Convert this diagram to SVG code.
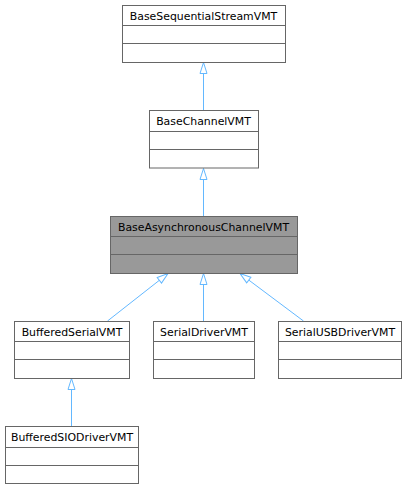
<svg xmlns="http://www.w3.org/2000/svg" width="407" height="489" viewBox="0 0 407 489">
<style>
.box{fill:#ffffff;stroke:#666666;stroke-width:1}
.hl{fill:#999999;stroke:#666666;stroke-width:1}
.div{stroke:#666666;stroke-width:1}
.lbl{font-family:"DejaVu Sans",sans-serif;font-size:10.9px;fill:#000000;text-anchor:middle}
.edge{stroke:#63b8ff;stroke-width:1;fill:none}
</style>
<defs>
<marker id="tri" markerUnits="userSpaceOnUse" markerWidth="13" markerHeight="10" refX="12" refY="4.5" orient="auto" viewBox="0 0 13 10">
<path d="M1,1 L12,4.5 L1,8 z" fill="#ffffff" stroke="#63b8ff" stroke-width="1"/>
</marker>
</defs>
<rect width="407" height="489" fill="#ffffff"/>
<g id="connectors">
<line class="edge" x1="203.5" y1="110.5" x2="203.5" y2="62.5" marker-end="url(#tri)"/>
<line class="edge" x1="203.5" y1="216.5" x2="203.5" y2="168.5" marker-end="url(#tri)"/>
<line class="edge" x1="107.5" y1="321" x2="168" y2="273.5" marker-end="url(#tri)"/>
<line class="edge" x1="203.5" y1="321" x2="203.5" y2="273.5" marker-end="url(#tri)"/>
<line class="edge" x1="303.5" y1="321" x2="240" y2="273.5" marker-end="url(#tri)"/>
<line class="edge" x1="71.5" y1="426.5" x2="71.5" y2="378.5" marker-end="url(#tri)"/>
</g>
<g id="BaseSequentialStreamVMT">
<rect class="box" x="122.5" y="5.5" width="163" height="57"/>
<line class="div" x1="122.5" y1="25.5" x2="285.5" y2="25.5"/>
<line class="div" x1="122.5" y1="43.5" x2="285.5" y2="43.5"/>
<text class="lbl" x="203.5" y="19.5">BaseSequentialStreamVMT</text>
</g>
<g id="BaseChannelVMT">
<rect class="box" x="149.5" y="110.5" width="109" height="57.5"/>
<line class="div" x1="149.5" y1="131.5" x2="258.5" y2="131.5"/>
<line class="div" x1="149.5" y1="149.5" x2="258.5" y2="149.5"/>
<text class="lbl" x="203.5" y="125">BaseChannelVMT</text>
</g>
<g id="BaseAsynchronousChannelVMT">
<rect class="hl" x="110.5" y="216.5" width="187" height="57"/>
<line class="div" x1="110.5" y1="236.5" x2="297.5" y2="236.5"/>
<line class="div" x1="110.5" y1="254.5" x2="297.5" y2="254.5"/>
<text class="lbl" x="203.5" y="230.5">BaseAsynchronousChannelVMT</text>
</g>
<g id="BufferedSerialVMT">
<rect class="box" x="14.5" y="321.5" width="115" height="57"/>
<line class="div" x1="14.5" y1="341.5" x2="129.5" y2="341.5"/>
<line class="div" x1="14.5" y1="359.5" x2="129.5" y2="359.5"/>
<text class="lbl" x="72" y="335.5">BufferedSerialVMT</text>
</g>
<g id="SerialDriverVMT">
<rect class="box" x="153.5" y="321.5" width="101" height="57"/>
<line class="div" x1="153.5" y1="341.5" x2="254.5" y2="341.5"/>
<line class="div" x1="153.5" y1="359.5" x2="254.5" y2="359.5"/>
<text class="lbl" x="204" y="335.5">SerialDriverVMT</text>
</g>
<g id="SerialUSBDriverVMT">
<rect class="box" x="278.5" y="321.5" width="123" height="57"/>
<line class="div" x1="278.5" y1="341.5" x2="401.5" y2="341.5"/>
<line class="div" x1="278.5" y1="359.5" x2="401.5" y2="359.5"/>
<text class="lbl" x="340" y="335.5">SerialUSBDriverVMT</text>
</g>
<g id="BufferedSIODriverVMT">
<rect class="box" x="5.5" y="426.5" width="133" height="57"/>
<line class="div" x1="5.5" y1="447.5" x2="138.5" y2="447.5"/>
<line class="div" x1="5.5" y1="465.5" x2="138.5" y2="465.5"/>
<text class="lbl" x="72" y="440.5">BufferedSIODriverVMT</text>
</g>
</svg>
